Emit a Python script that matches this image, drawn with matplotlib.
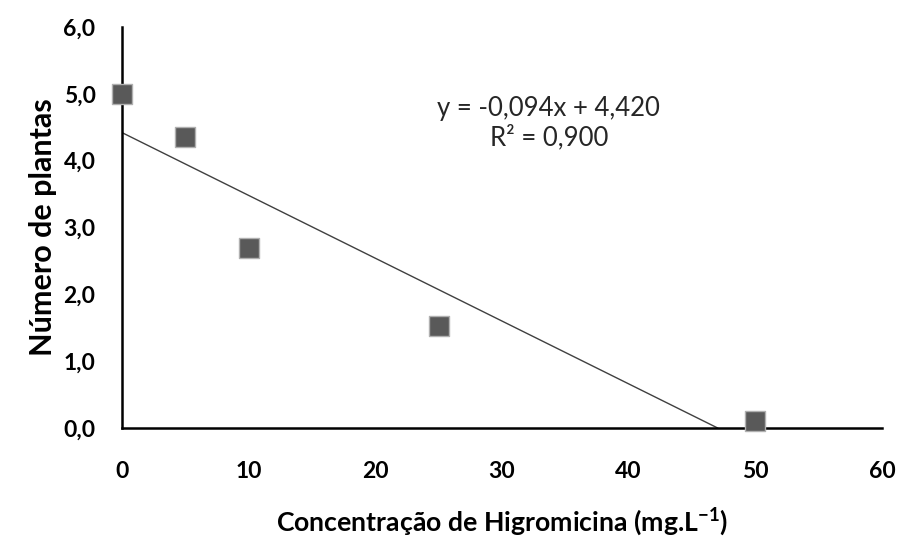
import numpy as np
import matplotlib.pyplot as plt

# dados
conc = [0, 5, 10, 25, 50]
plantas = [5.0, 4.36, 2.69, 1.52, 0.1]
coef_a = -0.094
coef_b = 4.420
r2 = 0.900

plt.rcParams['font.family'] = ['Lato', 'DejaVu Sans']
plt.rcParams['mathtext.fontset'] = 'custom'
plt.rcParams['mathtext.rm'] = 'Lato'
plt.rcParams['mathtext.bf'] = 'Lato:bold'

fig = plt.figure(figsize=(8.99, 5.38), dpi=100)
ax = fig.add_axes([0.1357, 0.2045, 0.8454, 0.7453])

# linha de tendencia ate cruzar y = 0
x_end = -coef_b / coef_a
xl = np.array([0, x_end])
ax.plot(xl, coef_a * xl + coef_b, color='#404040', lw=1.0, zorder=2)

ax.scatter(conc, plantas, marker='s', s=190, color='#595959',
           edgecolors='#b0b0b0', linewidths=1.0, zorder=3, clip_on=False)

ax.set_xlim(0, 60)
ax.set_ylim(0, 6)
ax.set_xticks(range(0, 61, 10))
ax.set_yticks(np.arange(0, 6.1, 1))
ax.set_yticklabels([f'{v:.1f}'.replace('.', ',') for v in np.arange(0, 6.1, 1)])
ax.tick_params(length=0, labelsize=16.5)
ax.tick_params(axis='x', pad=24)
ax.tick_params(axis='y', pad=19)
for lab in ax.get_xticklabels() + ax.get_yticklabels():
    lab.set_fontweight('bold')

for s in ['top', 'right']:
    ax.spines[s].set_visible(False)
for s in ['left', 'bottom']:
    ax.spines[s].set_linewidth(1.8)
    ax.spines[s].set_color('black')

ax.set_xlabel('Concentração de Higromicina (mg.L$\\mathbf{^{-1}}$)',
              fontsize=19.2, fontweight='bold', labelpad=17)
ax.set_ylabel('Número de plantas', fontsize=22, fontweight='bold', labelpad=5)

eq = f'y = {coef_a:.3f}x + {coef_b:.3f}'.replace('.', ',')
r2txt = f'R² = {r2:.3f}'.replace('.', ',')
ax.text(0.5617, 0.76, eq + '\n' + r2txt,
        transform=ax.transAxes, ha='center', va='center', fontsize=18.5,
        color='#262626', linespacing=1.2)

fig.savefig('out.png', dpi=100)
